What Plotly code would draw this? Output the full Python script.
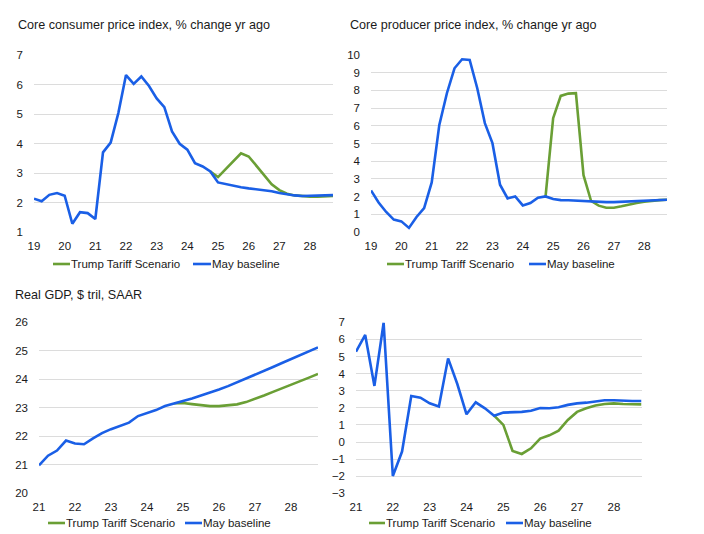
import plotly.graph_objects as go

# ---------------- DATA ----------------
years_a = list(range(2019, 2029))          # panels 1-2: 2019Q1..2028Q4
years_b = list(range(2021, 2029))          # panels 3-4: 2021Q1..2028Q4
tick_years_a = [2019, 2020, 2021, 2022, 2023, 2024, 2025, 2026, 2027, 2028]
tick_text_a = ["19", "20", "21", "22", "23", "24", "25", "26", "27", "28"]
tick_years_b = [2021, 2022, 2023, 2024, 2025, 2026, 2027, 2028]
tick_text_b = ["21", "22", "23", "24", "25", "26", "27", "28"]

cpi_baseline = [2.13, 2.04, 2.26, 2.32, 2.23, 1.28, 1.67, 1.64, 1.44, 3.70,
                4.03, 5.03, 6.32, 6.02, 6.27, 5.95, 5.53, 5.23, 4.41, 3.99,
                3.79, 3.33, 3.22, 3.05, 2.68, 2.62, 2.57, 2.52, 2.48, 2.45,
                2.43, 2.38, 2.32, 2.27, 2.24, 2.22, 2.23, 2.23, 2.24, 2.25]
cpi_tariff = [None] * 23 + [3.05, 2.86, 3.13, 3.40, 3.67, 3.56, 3.25, 2.93,
                            2.62, 2.42, 2.30, 2.24, 2.21, 2.20, 2.20, 2.21, 2.22]

ppi_baseline = [2.35, 1.67, 1.13, 0.70, 0.60, 0.23, 0.85, 1.35, 2.80, 6.05,
                7.84, 9.25, 9.76, 9.72, 8.12, 6.15, 5.02, 2.67, 1.90, 2.01,
                1.50, 1.64, 1.94, 2.01, 1.86, 1.80, 1.79, 1.77, 1.73, 1.69,
                1.69, 1.69, 1.69, 1.71, 1.75, 1.77, 1.79, 1.80, 1.82, 1.82]
ppi_tariff = [None] * 23 + [2.01, 6.43, 7.69, 7.82, 7.84, 3.21, 1.75, 1.49,
                            1.37, 1.37, 1.45, 1.56, 1.64, 1.71, 1.77, 1.80, 1.82]

gdp_baseline = [20.98, 21.32, 21.50, 21.85, 21.75, 21.72, 21.93, 22.11,
                22.25, 22.36, 22.48, 22.71, 22.81, 22.92, 23.06, 23.16,
                23.24, 23.33, 23.43, 23.53, 23.64, 23.76, 23.89, 24.02,
                24.15, 24.29, 24.43, 24.57, 24.71, 24.85, 24.99, 25.12]
gdp_tariff = [None] * 15 + [23.16, 23.17, 23.13, 23.09, 23.06, 23.06, 23.08,
                            23.12, 23.20, 23.31, 23.43, 23.56, 23.68, 23.80,
                            23.93, 24.06, 24.19]

growth_baseline = [5.28, 6.26, 3.28, 6.97, -1.99, -0.56, 2.69, 2.59,
                   2.26, 2.07, 4.89, 3.39, 1.62, 2.32, 1.97, 1.54,
                   1.72, 1.72, 1.76, 1.83, 1.99, 1.97, 2.03, 2.17,
                   2.26, 2.30, 2.38, 2.44, 2.44, 2.40, 2.40, 2.40]
growth_tariff = [None] * 15 + [1.54, 1.00, -0.52, -0.70, -0.37, 0.20, 0.39,
                               0.66, 1.29, 1.76, 1.97, 2.13, 2.22, 2.26,
                               2.22, 2.22, 2.20]

titles = ["Core consumer price index, % change yr ago",
          "Core producer price index, % change yr ago",
          "Real GDP, $ tril, SAAR"]
series_names = ["Trump Tariff Scenario", "May baseline"]

# ---------------- STYLE ----------------
W, H = 704, 534
GREEN = "#6A9F35"
BLUE = "#1A5FE6"
FONT = "Liberation Sans"
TXT = "#1a1a1a"


def qx(years):
    return [y + q / 4 for y in years for q in range(4)]


xa = qx(years_a)
xb = qx(years_b)


def px_x(p):
    return p / W


def px_y(p):
    return 1 - p / H


fig = go.Figure()

panels = [
    dict(x=xa, base=cpi_baseline, tar=cpi_tariff, dom_x=(34, 333), dom_y=(55, 232),
         yr=(1, 7), dt=1, tv=tick_years_a, tt=tick_text_a, xr=(2019, 2028.75)),
    dict(x=xa, base=ppi_baseline, tar=ppi_tariff, dom_x=(371, 667), dom_y=(55, 232),
         yr=(0, 10), dt=1, tv=tick_years_a, tt=tick_text_a, xr=(2019, 2028.75)),
    dict(x=xb, base=gdp_baseline, tar=gdp_tariff, dom_x=(39, 318), dom_y=(322.3, 493.3),
         yr=(20, 26), dt=1, tv=tick_years_b, tt=tick_text_b, xr=(2021, 2028.75)),
    dict(x=xb, base=growth_baseline, tar=growth_tariff, dom_x=(356, 641.5), dom_y=(322.3, 493.3),
         yr=(-3, 7), dt=1, tv=tick_years_b, tt=tick_text_b, xr=(2021, 2028.75)),
]

for i, p in enumerate(panels, start=1):
    xs = "x" if i == 1 else f"x{i}"
    ys = "y" if i == 1 else f"y{i}"
    fig.add_trace(go.Scatter(x=p["x"], y=p["tar"], mode="lines", name=series_names[0],
                             line=dict(color=GREEN, width=2.6), xaxis=xs, yaxis=ys,
                             showlegend=False, connectgaps=False))
    fig.add_trace(go.Scatter(x=p["x"], y=p["base"], mode="lines", name=series_names[1],
                             line=dict(color=BLUE, width=2.6), xaxis=xs, yaxis=ys,
                             showlegend=False))
    xk = "xaxis" if i == 1 else f"xaxis{i}"
    yk = "yaxis" if i == 1 else f"yaxis{i}"
    fig.layout[xk] = dict(domain=[px_x(p["dom_x"][0]), px_x(p["dom_x"][1])],
                          range=list(p["xr"]), anchor=ys, tickvals=p["tv"], ticktext=p["tt"],
                          showgrid=False, zeroline=False, showline=False, ticks="",
                          ticklabelstandoff=5, automargin=False,
                          tickfont=dict(family=FONT, size=11.5, color=TXT), fixedrange=True)
    fig.layout[yk] = dict(domain=[px_y(p["dom_y"][1]), px_y(p["dom_y"][0])],
                          range=[p["yr"][0], p["yr"][1]], anchor=xs, dtick=p["dt"],
                          tick0=p["yr"][0],
                          showgrid=True, gridcolor="#DCDCDC", gridwidth=1,
                          zeroline=False, showline=False, ticks="",
                          ticklabelstandoff=10, automargin=False,
                          tickfont=dict(family=FONT, size=11.5, color=TXT), fixedrange=True)

annotations = []
title_pos = [(16, 25), (348, 25), (13, 295)]
for t, (tx, ty) in zip(titles, title_pos):
    annotations.append(dict(text=t, x=px_x(tx), y=px_y(ty), xref="paper", yref="paper",
                            xanchor="left", yanchor="middle", showarrow=False,
                            font=dict(family=FONT, size=12.6, color=TXT)))

# custom legends: (green line start, green line end, blue line start, blue line end, y)
legend_pos = [(53, 70, 193, 211, 264), (387, 404, 529, 546, 264),
              (48, 65, 185, 202, 523), (369, 385, 506, 523, 523)]
shapes = []
for (g0, g1, b0, b1, ly) in legend_pos:
    for (a, b, col, name) in [(g0, g1, GREEN, series_names[0]), (b0, b1, BLUE, series_names[1])]:
        shapes.append(dict(type="line", xref="paper", yref="paper",
                           x0=px_x(a), x1=px_x(b), y0=px_y(ly), y1=px_y(ly),
                           line=dict(color=col, width=2.6)))
        annotations.append(dict(text=name, x=px_x(b), y=px_y(ly), xref="paper", yref="paper",
                                xanchor="left", yanchor="middle", showarrow=False,
                                xshift=-1,
                                font=dict(family=FONT, size=11.5, color=TXT)))

fig.update_layout(width=W, height=H, margin=dict(l=0, r=0, t=0, b=0, pad=0),
                  paper_bgcolor="white", plot_bgcolor="white", hovermode=False,
                  annotations=annotations, shapes=shapes, showlegend=False)

fig.write_html("out.html", config={"displayModeBar": False, "staticPlot": True},
               post_script="document.body.style.margin='0';document.body.style.overflow='hidden';")
